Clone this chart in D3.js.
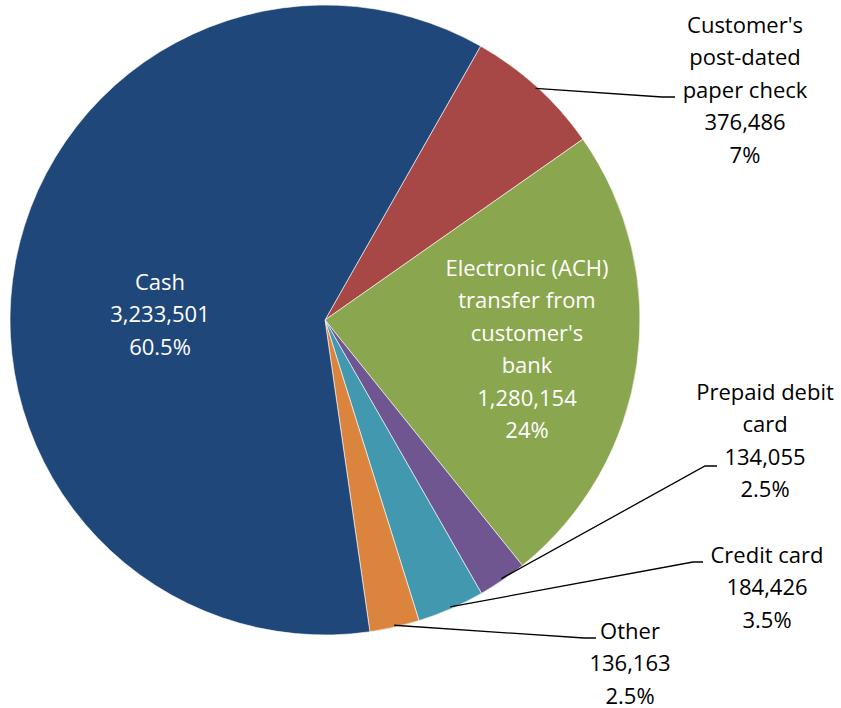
<!DOCTYPE html>
<html>
<head>
<meta charset="utf-8">
<script src="https://cdn.jsdelivr.net/npm/d3@7"></script>
<style>
	body { margin: 0; background: #fff; }
	text { font-family: "Open Sans", "Noto Sans", sans-serif; font-size: 22px; }
</style>
</head>
<body>
<div id="chart"></div>
<script>
// slices in clockwise order, starting just right of 12 o'clock
var categories = ["Customer's post-dated paper check", "Electronic (ACH) transfer from customer's bank",
	"Prepaid debit card", "Credit card", "Other", "Cash"];
var values = [376486, 1280154, 134055, 184426, 136163, 3233501];
var colors = ["#A84846", "#8AA64E", "#6F5690", "#4298AF", "#DB843D", "#20477A"];

// how each label is wrapped
var labelLines = [
	["Customer's", "post-dated", "paper check"],
	["Electronic (ACH)", "transfer from", "customer's", "bank"],
	["Prepaid debit", "card"],
	["Credit card"],
	["Other"],
	["Cash"]
];

var width = 841, height = 708;
var cx = 325, cy = 320, radius = 315;
var lineH = 32.5;

// label placement: text center x, first line center y, elbow of leader
var layout = [
	{x: 745, y: 25, elbow: [662, 97], end: 675, inside: false},
	{x: 527, y: 268, inside: true},
	{x: 765, y: 392, elbow: [705, 466], end: 717, inside: false},
	{x: 767, y: 555, elbow: [693, 562], end: 703, inside: false},
	{x: 630, y: 631, elbow: [584, 638], end: 596, inside: false},
	{x: 160, y: 282, inside: true}
];

var total = d3.sum(values);
var fmtNum = d3.format(",");
var fmtPct = function(v) { return d3.format(".1f")(v * 100).replace(/\.0$/, "") + "%"; };

var data = categories.map(function(c, i) {
	return {name: c, value: values[i], color: colors[i], lines: labelLines[i], pos: layout[i]};
});

var start = 29.6 * Math.PI / 180;
var pie = d3.pie()
	.sort(null)
	.value(function(d) { return d.value; })
	.startAngle(start)
	.endAngle(start + 2 * Math.PI);

var arc = d3.arc().innerRadius(0).outerRadius(radius);

var svg = d3.select("#chart").append("svg")
	.attr("width", width)
	.attr("height", height);

var g = svg.append("g")
	.attr("transform", "translate(" + cx + "," + cy + ")");

var arcs = pie(data);

g.selectAll("path.slice")
	.data(arcs)
	.enter().append("path")
	.attr("class", "slice")
	.attr("d", arc)
	.attr("fill", function(d) { return d.data.color; })
	.attr("stroke", "#fff")
	.attr("stroke-width", 0.6);

// leader lines
var outside = arcs.filter(function(d) { return !d.data.pos.inside; });
svg.append("g").selectAll("polyline")
	.data(outside)
	.enter().append("polyline")
	.attr("fill", "none")
	.attr("stroke", "#000")
	.attr("stroke-width", 1.3)
	.attr("points", function(d) {
		var a = (d.startAngle + d.endAngle) / 2;
		var r = radius - 2;
		var p0 = [cx + r * Math.sin(a), cy - r * Math.cos(a)];
		var p = d.data.pos;
		return [p0, p.elbow, [p.end, p.elbow[1]]].map(function(q) { return q.join(","); }).join(" ");
	});

// labels
var labels = svg.append("g").selectAll("text")
	.data(arcs)
	.enter().append("text")
	.attr("text-anchor", "middle")
	.attr("fill", function(d) { return d.data.pos.inside ? "#fff" : "#000"; });

labels.each(function(d) {
	var t = d3.select(this);
	var p = d.data.pos;
	var lines = d.data.lines.concat([fmtNum(d.data.value), fmtPct(d.data.value / total)]);
	lines.forEach(function(s, i) {
		t.append("tspan")
			.attr("x", p.x)
			.attr("y", p.y + i * lineH)
			.attr("dy", "0.35em")
			.text(s);
	});
});
</script>
</body>
</html>
